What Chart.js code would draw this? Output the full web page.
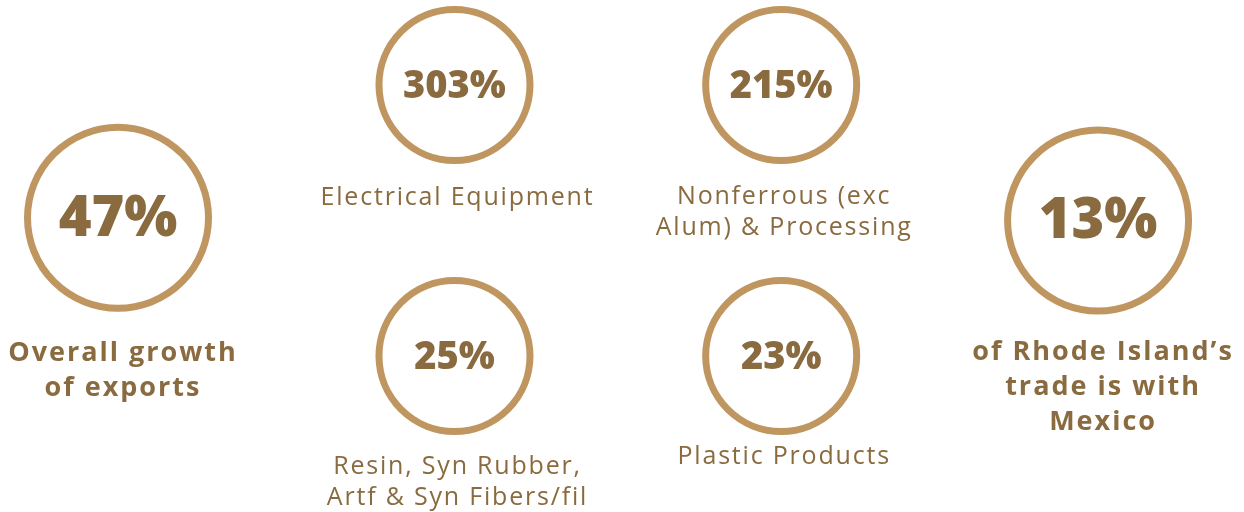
<!DOCTYPE html>
<html>
<head>
<meta charset="utf-8">
<script src="https://cdn.jsdelivr.net/npm/chart.js@4"></script>
<style>
  body { margin: 0; background: #fff; }
  #wrap { width: 1244px; height: 512px; }
</style>
</head>
<body>
<div id="wrap"><canvas id="grafico"></canvas></div>
<script>
// valores do infográfico
const percentuais = [47, 303, 215, 25, 23, 13];
const rotulos = [
    ['Overall growth', 'of exports'],
    ['Electrical Equipment'],
    ['Nonferrous (exc', 'Alum) & Processing'],
    ['Resin, Syn Rubber,', 'Artf & Syn Fibers/fil'],
    ['Plastic Products'],
    ['of Rhode Island\u2019s', 'trade is with', 'Mexico']
];
const destaque = [true, false, false, false, false, true];

// grade: coluna / linha de cada círculo
const coluna = [0, 1.03, 2.03, 1.03, 2.03, 3];
const linha = [0.49, 0, 0, 1, 1, 0.5];
const deslocRotulo = [136, 113, 112, 111, 101, 132];

const corAro = '#bf9660';
const corTexto = '#8a6a3f';
const fonte = '"Open Sans", sans-serif';

const textos = {
    id: 'textos',
    afterDatasetsDraw(chart) {
        const ctx = chart.ctx;
        const pts = chart.getDatasetMeta(0).data;
        ctx.save();
        ctx.fillStyle = corTexto;
        ctx.textAlign = 'center';
        ctx.textBaseline = 'middle';
        pts.forEach((p, i) => {
            const grande = destaque[i];
            ctx.letterSpacing = '0px';
            ctx.font = `800 ${grande ? 56 : 38}px ${fonte}`;
            ctx.fillText(percentuais[i] + '%', p.x, p.y + 2);

            ctx.font = grande ? `bold 27px ${fonte}` : `25px ${fonte}`;
            ctx.letterSpacing = grande ? '2px' : '1.8px';
            const passo = grande ? 35 : 31;
            rotulos[i].forEach((linhaTxt, j) => {
                ctx.fillText(linhaTxt, p.x + (grande ? 5 : 3), p.y + deslocRotulo[i] + j * passo);
            });
        });
        ctx.restore();
    }
};

new Chart(document.getElementById('grafico'), {
    type: 'scatter',
    data: {
        datasets: [{
            data: percentuais.map((v, i) => ({ x: coluna[i], y: linha[i] })),
            pointRadius: destaque.map(g => g ? 90.5 : 75.5),
            pointBorderWidth: 7,
            pointBorderColor: corAro,
            pointBackgroundColor: '#ffffff',
            clip: false
        }]
    },
    options: {
        responsive: true,
        maintainAspectRatio: false,
        animation: false,
        events: [],
        layout: { padding: 0, autoPadding: false },
        plugins: { legend: { display: false }, tooltip: { enabled: false } },
        scales: {
            x: { type: 'linear', display: false, min: -0.3612, max: 3.4467 },
            y: { type: 'linear', display: false, reverse: true, min: -0.3137, max: 1.5756 }
        }
    },
    plugins: [textos]
});
</script>
</body>
</html>
